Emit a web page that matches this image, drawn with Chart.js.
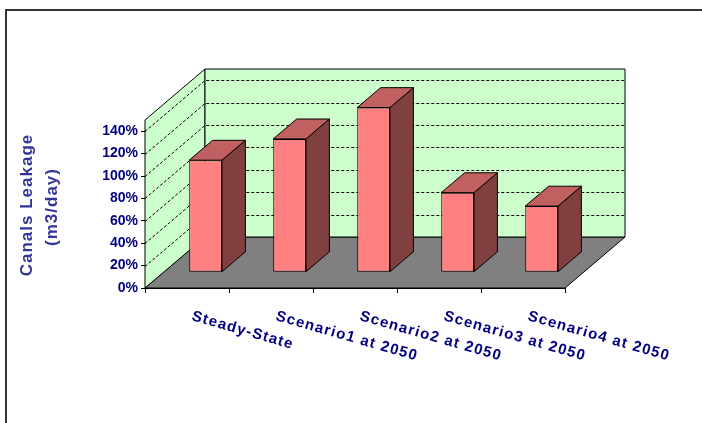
<!DOCTYPE html>
<html>
<head>
<meta charset="utf-8">
<script src="https://cdn.jsdelivr.net/npm/chart.js@4.4.1/dist/chart.umd.min.js"></script>
<style>
  html, body { margin: 0; padding: 0; background: #fff; }
  canvas { display: block; }
</style>
</head>
<body>
<canvas id="leakage" width="702" height="423"></canvas>
<script>
const categories = ['Steady-State', 'Scenario1 at 2050', 'Scenario2 at 2050', 'Scenario3 at 2050', 'Scenario4 at 2050'];
const leakage = [100, 119, 147, 71, 59];
const yTicks = [0, 20, 40, 60, 80, 100, 120, 140];
const yTitle = ['Canals Leakage', '(m3/day)'];

// oblique depth of the box, and where the bars sit inside it (fractions of depth)
const depth = { x: 60, y: -51 };
const barFront = 0.31;
const barDepth = 0.39;

const fontFamily = "'Liberation Sans', Arial, sans-serif";

function poly(ctx, pts, fill) {
  ctx.beginPath();
  ctx.moveTo(pts[0][0], pts[0][1]);
  for (let i = 1; i < pts.length; i++) ctx.lineTo(pts[i][0], pts[i][1]);
  ctx.closePath();
  ctx.fillStyle = fill;
  ctx.fill();
  ctx.strokeStyle = '#000';
  ctx.lineWidth = 1;
  ctx.stroke();
}

const box3d = {
  id: 'box3d',
  beforeDraw(chart) {
    const ctx = chart.ctx;
    ctx.save();
    ctx.strokeStyle = '#333';
    ctx.lineWidth = 2;
    ctx.strokeRect(6, 10, chart.width + 10, chart.height + 10);
    ctx.restore();
  },
  beforeDatasetsDraw(chart) {
    const ctx = chart.ctx;
    const { left, right, top, bottom } = chart.chartArea;
    const dx = depth.x, dy = depth.y;
    const yScale = chart.scales.y;

    ctx.save();
    // floor, side wall, back wall
    poly(ctx, [[left, bottom], [right, bottom], [right + dx, bottom + dy], [left + dx, bottom + dy]], '#808080');
    poly(ctx, [[left, bottom], [left, top], [left + dx, top + dy], [left + dx, bottom + dy]], '#CCFFCC');
    poly(ctx, [[left + dx, top + dy], [right + dx, top + dy], [right + dx, bottom + dy], [left + dx, bottom + dy]], '#CCFFCC');

    // dashed gridlines across both walls
    ctx.setLineDash([3, 2]);
    ctx.strokeStyle = '#000';
    ctx.lineWidth = 1;
    yScale.ticks.forEach(t => {
      if (t.value === 0) return;
      const y = Math.round(yScale.getPixelForValue(t.value)) + 0.5;
      ctx.beginPath();
      ctx.moveTo(left, y);
      ctx.lineTo(left + dx, y + dy);
      ctx.lineTo(right + dx, y + dy);
      ctx.stroke();
    });
    ctx.restore();

    // bars are drawn on the plane part way into the box
    ctx.save();
    ctx.translate(dx * barFront, dy * barFront);
  },
  afterDatasetsDraw(chart) {
    const ctx = chart.ctx;
    const bx = depth.x * barDepth, by = depth.y * barDepth;
    chart.getDatasetMeta(0).data.forEach(bar => {
      const l = bar.x - bar.width / 2, r = bar.x + bar.width / 2;
      const t = bar.y, b = bar.base;
      poly(ctx, [[r, t], [r + bx, t + by], [r + bx, b + by], [r, b]], '#804040');
      poly(ctx, [[l, t], [l + bx, t + by], [r + bx, t + by], [r, t]], '#C06060');
    });
    ctx.restore();
  },
  afterDraw(chart) {
    const ctx = chart.ctx;
    const xScale = chart.scales.x;
    const { bottom } = chart.chartArea;

    ctx.save();
    ctx.fillStyle = '#000080';
    ctx.font = 'bold 15px ' + fontFamily;
    ctx.letterSpacing = '1.2px';
    ctx.textAlign = 'left';
    ctx.textBaseline = 'alphabetic';
    categories.forEach((label, i) => {
      const x = xScale.getPixelForValue(i);
      ctx.save();
      ctx.translate(x + 4, bottom + 32);
      ctx.rotate(16 * Math.PI / 180);
      ctx.fillText(label, 0, 0);
      ctx.restore();
    });

    // two-line axis title
    const mid = (chart.chartArea.top + chart.chartArea.bottom) / 2;
    ctx.fillStyle = '#333399';
    ctx.font = 'bold 17px ' + fontFamily;
    ctx.letterSpacing = '1px';
    ctx.textAlign = 'center';
    yTitle.forEach((line, i) => {
      ctx.save();
      ctx.translate(32 + i * 25, mid + 1 + i * 2);
      ctx.rotate(-Math.PI / 2);
      ctx.fillText(line, 0, 0);
      ctx.restore();
    });
    ctx.restore();
  }
};

new Chart(document.getElementById('leakage'), {
  type: 'bar',
  data: {
    labels: categories,
    datasets: [{
      data: leakage,
      backgroundColor: '#FF8080',
      borderColor: '#000',
      borderWidth: 1,
      borderSkipped: false,
      categoryPercentage: 1,
      barPercentage: 0.39,
      clip: false
    }]
  },
  options: {
    responsive: false,
    animation: false,
    events: [],
    layout: { padding: { top: 120, right: 137, left: 0, bottom: 0 } },
    plugins: { legend: { display: false }, tooltip: { enabled: false } },
    scales: {
      x: {
        grid: { drawOnChartArea: false, color: '#000', tickLength: 5, offset: true },
        border: { color: '#000' },
        ticks: { display: false },
        afterFit(scale) { scale.height = 135; }
      },
      y: {
        min: 0,
        max: 150,
        afterBuildTicks(scale) { scale.ticks = yTicks.map(v => ({ value: v })); },
        grid: { drawOnChartArea: false, color: '#000', tickLength: 4 },
        border: { color: '#000' },
        ticks: {
          padding: 3,
          color: '#000080',
          font: { family: fontFamily, size: 14, weight: 'bold' },
          callback: v => v + '%'
        },
        afterFit(scale) { scale.width = 145; }
      }
    }
  },
  plugins: [box3d]
});
</script>
</body>
</html>
